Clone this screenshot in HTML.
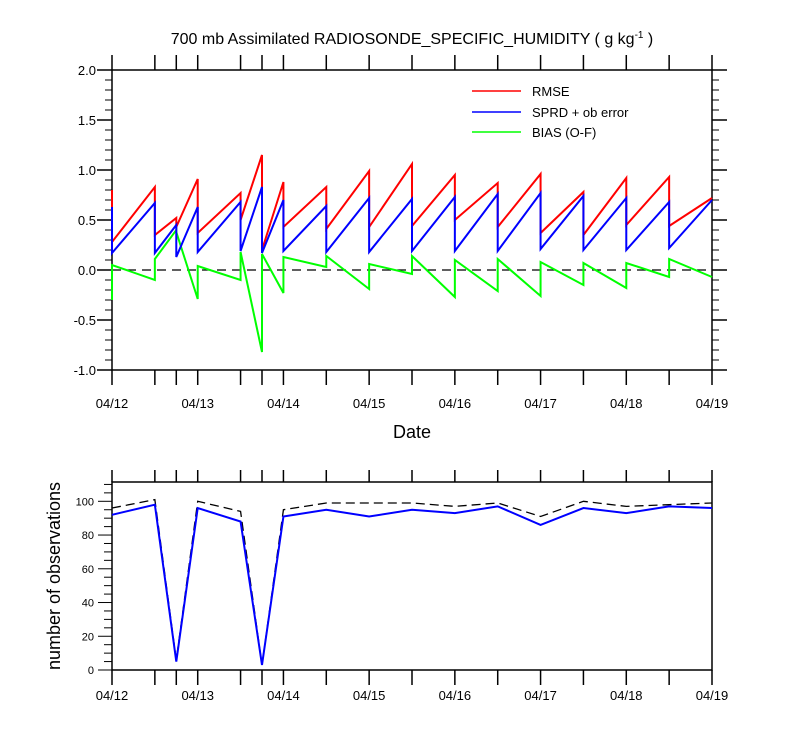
<!DOCTYPE html>
<html><head><meta charset="utf-8"><style>
body{margin:0;background:#fff}
svg{font-family:"Liberation Sans",Arial,sans-serif}
</style></head><body>
<svg id="c" width="800" height="750" xmlns="http://www.w3.org/2000/svg">
<text x="412" y="44" font-size="16" text-anchor="middle">700 mb Assimilated RADIOSONDE_SPECIFIC_HUMIDITY ( g kg<tspan dy="-6" font-size="10">-1</tspan><tspan dy="6"> )</tspan></text>
<g id="topG"></g>
<g id="botG"></g>
<g>
<line x1="472" y1="91" x2="521" y2="91" stroke="#f00" stroke-width="1.5"/>
<text x="532" y="96" font-size="13">RMSE</text>
<line x1="472" y1="112" x2="521" y2="112" stroke="#00f" stroke-width="1.5"/>
<text x="532" y="117" font-size="13">SPRD + ob error</text>
<line x1="472" y1="132" x2="521" y2="132" stroke="#0f0" stroke-width="1.5"/>
<text x="532" y="137" font-size="13">BIAS (O-F)</text>
</g>
<text x="412" y="438" font-size="18" text-anchor="middle">Date</text>
<text transform="translate(60,576) rotate(-90)" font-size="18" text-anchor="middle">number of observations</text>
</svg>
<script>
const times=[0,0.5,0.75,1,1.5,1.75,2,2.5,3,3.5,4,4.5,5,5.5,6,6.5,7];
const dateLabels=["04/12","04/13","04/14","04/15","04/16","04/17","04/18","04/19"];
const rmsePrior=[0.8,0.83,0.52,0.91,0.77,1.15,0.88,0.83,0.99,1.06,0.95,0.87,0.96,0.78,0.92,0.93,0.72];
const rmsePost=[0.28,0.35,0.43,0.37,0.5,0.2,0.43,0.41,0.43,0.44,0.5,0.43,0.37,0.35,0.45,0.44,0.72];
const sprdPrior=[0.63,0.67,0.45,0.63,0.68,0.83,0.7,0.64,0.72,0.71,0.73,0.76,0.77,0.74,0.72,0.68,0.7];
const sprdPost=[0.17,0.17,0.13,0.18,0.19,0.17,0.19,0.18,0.18,0.19,0.19,0.19,0.21,0.2,0.2,0.22,0.7];
const biasPrior=[-0.3,-0.1,0.4,-0.29,-0.1,-0.82,-0.23,0.03,-0.19,-0.04,-0.27,-0.21,-0.26,-0.15,-0.18,-0.07,-0.07];
const biasPost=[0.05,0.11,0.38,0.04,0.18,0.16,0.13,0.14,0.06,0.14,0.1,0.11,0.08,0.07,0.07,0.11,-0.07];
const obsUsed=[92,98,5,96,88,3,91,95,91,95,93,97,86,96,93,97,96];
const obsTotal=[96,101,6,100,94,3,95,99,99,99,97,99,91,100,97,98,99];
const topTicks=[-1,-0.5,0,0.5,1,1.5,2];
const botTicks=[0,20,40,60,80,100];

const NS="http://www.w3.org/2000/svg";
const X=t=>112+t*600/7;
const Y1=v=>270-v*100;
const Y2=v=>670-v*1.687;
function mk(p,tag,a){const e=document.createElementNS(NS,tag);for(const k in a)e.setAttribute(k,a[k]);p.appendChild(e);return e;}
const topG=document.getElementById('topG'),botG=document.getElementById('botG');

let f=mk(topG,'rect',{x:112,y:70,width:600,height:300,fill:'none',stroke:'#000','stroke-width':1.5});


for(let r=-10;r<=20;r++){
  const maj=r%5===0;const y=Y1(r/10);
  const l=mk(topG,'line',{x1:112-(maj?15:7),x2:112,y1:y,y2:y,stroke:'#000','stroke-width':maj?1.5:1});
  
  
  const l2=mk(topG,'line',{x1:712,x2:712+(maj?15:7),y1:y,y2:y,stroke:'#000','stroke-width':maj?1.5:1});
  
  
}
topTicks.forEach(v=>{
  const t=mk(topG,'text',{x:96,y:Y1(v)+5,'font-size':13,'text-anchor':'end'});t.textContent=v.toFixed(1);
  
  
});
times.forEach(t=>{
  const a=mk(topG,'line',{x1:X(t),x2:X(t),y1:55,y2:70,stroke:'#000','stroke-width':1.5});
  
  
  const b=mk(topG,'line',{x1:X(t),x2:X(t),y1:370,y2:385,stroke:'#000','stroke-width':1.5});
  
  
  const c=mk(botG,'line',{x1:X(t),x2:X(t),y1:470,y2:482,stroke:'#000','stroke-width':1.5});
  
  
  const d=mk(botG,'line',{x1:X(t),x2:X(t),y1:670,y2:685,stroke:'#000','stroke-width':1.5});
  
  
});
dateLabels.forEach((s,i)=>{
  const a=mk(topG,'text',{x:X(i),y:408,'font-size':13,'text-anchor':'middle'});a.textContent=s;
  
  
  const b=mk(botG,'text',{x:X(i),y:700,'font-size':13,'text-anchor':'middle'});b.textContent=s;
  
  
});
const zl=mk(topG,'line',{x1:112,x2:712,y1:Y1(0),y2:Y1(0),stroke:'#000','stroke-width':1.3,'stroke-dasharray':'9,6'});


function saw(pr,po,col,name){
  let pts=[];times.forEach((t,i)=>{pts.push(X(t)+','+Y1(pr[i]));pts.push(X(t)+','+Y1(po[i]));});
  const p=mk(topG,'polyline',{points:pts.join(' '),fill:'none',stroke:col,'stroke-width':2});
  
  
}
saw(biasPrior,biasPost,'#0f0','bias-line');
saw(rmsePrior,rmsePost,'#f00','rmse-line');
saw(sprdPrior,sprdPost,'#00f','sprd-line');

f=mk(botG,'rect',{x:112,y:482,width:600,height:188,fill:'none',stroke:'#000','stroke-width':1.5});


for(let v=0;v<=110;v+=5){
  const maj=v%20===0;
  const l=mk(botG,'line',{x1:112-(maj?14:8),x2:112,y1:Y2(v),y2:Y2(v),stroke:'#000','stroke-width':1});
  
  
}
botTicks.forEach(v=>{
  const t=mk(botG,'text',{x:94,y:Y2(v)+4,'font-size':11,'text-anchor':'end'});t.textContent=v;
  
  
});
let p=mk(botG,'polyline',{points:times.map((t,i)=>X(t)+','+Y2(obsTotal[i])).join(' '),fill:'none',stroke:'#000','stroke-width':1.3,'stroke-dasharray':'9,5'});


p=mk(botG,'polyline',{points:times.map((t,i)=>X(t)+','+Y2(obsUsed[i])).join(' '),fill:'none',stroke:'#00f','stroke-width':2});


</script>
</body></html>
